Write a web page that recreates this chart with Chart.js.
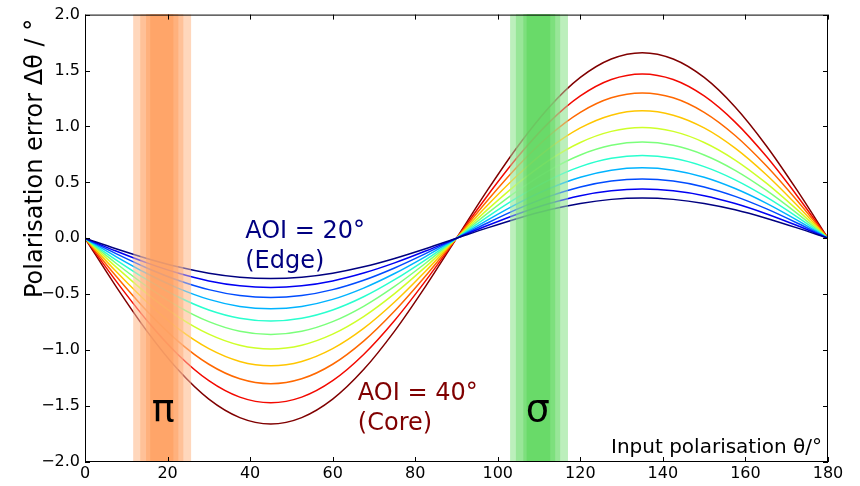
<!DOCTYPE html>
<html>
<head>
<meta charset="utf-8">
<script src="https://cdn.jsdelivr.net/npm/chart.js@4/dist/chart.umd.min.js"></script>
<style>
html,body{margin:0;padding:0;background:#fff;}
canvas{display:block;}
</style>
</head>
<body>
<canvas id="c" width="860" height="486"></canvas>
<script>
// ---- data ----
const thetaDeg = [0, 7.5, 15, 22.5, 30, 37.5, 45, 52.5, 60, 67.5, 75, 82.5, 90,
                  97.5, 105, 112.5, 120, 127.5, 135, 142.5, 150, 157.5, 165, 172.5, 180];
const aoi20 = [0, -0.093, -0.18, -0.255, -0.312, -0.348, -0.36, -0.348, -0.312, -0.255, -0.18, -0.093, 0,
               0.093, 0.18, 0.255, 0.312, 0.348, 0.36, 0.348, 0.312, 0.255, 0.18, 0.093, 0];
const aoi22 = [0, -0.114, -0.22, -0.311, -0.381, -0.425, -0.44, -0.425, -0.381, -0.311, -0.22, -0.114, 0,
               0.114, 0.22, 0.311, 0.381, 0.425, 0.44, 0.425, 0.381, 0.311, 0.22, 0.114, 0];
const aoi24 = [0, -0.137, -0.265, -0.375, -0.459, -0.512, -0.53, -0.512, -0.459, -0.375, -0.265, -0.137, 0,
               0.137, 0.265, 0.375, 0.459, 0.512, 0.53, 0.512, 0.459, 0.375, 0.265, 0.137, 0];
const aoi26 = [0, -0.163, -0.315, -0.445, -0.546, -0.609, -0.63, -0.609, -0.546, -0.445, -0.315, -0.163, 0,
               0.163, 0.315, 0.445, 0.546, 0.609, 0.63, 0.609, 0.546, 0.445, 0.315, 0.163, 0];
const aoi28 = [0, -0.192, -0.37, -0.523, -0.641, -0.715, -0.74, -0.715, -0.641, -0.523, -0.37, -0.192, 0,
               0.192, 0.37, 0.523, 0.641, 0.715, 0.74, 0.715, 0.641, 0.523, 0.37, 0.192, 0];
const aoi30 = [0, -0.223, -0.43, -0.608, -0.745, -0.831, -0.86, -0.831, -0.745, -0.608, -0.43, -0.223, 0,
               0.223, 0.43, 0.608, 0.745, 0.831, 0.86, 0.831, 0.745, 0.608, 0.43, 0.223, 0];
const aoi32 = [0, -0.256, -0.495, -0.70, -0.857, -0.956, -0.99, -0.956, -0.857, -0.70, -0.495, -0.256, 0,
               0.256, 0.495, 0.70, 0.857, 0.956, 0.99, 0.956, 0.857, 0.70, 0.495, 0.256, 0];
const aoi34 = [0, -0.295, -0.57, -0.806, -0.987, -1.101, -1.14, -1.101, -0.987, -0.806, -0.57, -0.295, 0,
               0.295, 0.57, 0.806, 0.987, 1.101, 1.14, 1.101, 0.987, 0.806, 0.57, 0.295, 0];
const aoi36 = [0, -0.337, -0.65, -0.919, -1.126, -1.256, -1.30, -1.256, -1.126, -0.919, -0.65, -0.337, 0,
               0.337, 0.65, 0.919, 1.126, 1.256, 1.30, 1.256, 1.126, 0.919, 0.65, 0.337, 0];
const aoi38 = [0, -0.381, -0.735, -1.039, -1.273, -1.42, -1.47, -1.42, -1.273, -1.039, -0.735, -0.381, 0,
               0.381, 0.735, 1.039, 1.273, 1.42, 1.47, 1.42, 1.273, 1.039, 0.735, 0.381, 0];
const aoi40 = [0, -0.43, -0.83, -1.174, -1.438, -1.603, -1.66, -1.603, -1.438, -1.174, -0.83, -0.43, 0,
               0.43, 0.83, 1.174, 1.438, 1.603, 1.66, 1.603, 1.438, 1.174, 0.83, 0.43, 0];
const seriesList = [aoi20, aoi22, aoi24, aoi26, aoi28, aoi30, aoi32, aoi34, aoi36, aoi38, aoi40];

const xTickValues = [0, 20, 40, 60, 80, 100, 120, 140, 160, 180];
const yTickValues = [-2.0, -1.5, -1.0, -0.5, 0.0, 0.5, 1.0, 1.5, 2.0];

// wavelength bands (theta ranges, outer to inner)
const piBand = [[11.7, 25.7], [13.4, 23.8], [14.8, 22.6], [15.8, 21.4]];
const sigmaBand = [[103.0, 117.0], [104.4, 115.1], [106.2, 113.9], [107.0, 112.7]];

// ---- styles ----
const lineColors = ['#000080', '#0000f3', '#004cff', '#00b3ff', '#29ffce', '#7bff7b',
                    '#ceff29', '#ffc600', '#ff6800', '#f30900', '#800000'];
const FONT = '"DejaVu Sans", sans-serif';

function layerColors(base, a, n) {
  const out = [];
  for (let k = 1; k <= n; k++) {
    const al = 1 - Math.pow(1 - a, k);
    out.push('rgb(' + base.map(c => Math.round(255 - al * (255 - c))).join(',') + ')');
  }
  return out;
}
const piColors = layerColors([255, 120, 30], 0.3, 4);
const sigmaColors = layerColors([30, 200, 30], 0.3, 4);

function drawBands(chart, alpha) {
  const {ctx, chartArea: ca, scales: {x}} = chart;
  ctx.save();
  ctx.globalAlpha = alpha;
  [[piBand, piColors], [sigmaBand, sigmaColors]].forEach(([band, cols]) => {
    band.forEach((r, i) => {
      const x0 = x.getPixelForValue(r[0]);
      const x1 = x.getPixelForValue(r[1]);
      ctx.fillStyle = cols[i];
      ctx.fillRect(x0, ca.top, x1 - x0, ca.bottom - ca.top);
    });
  });
  ctx.restore();
}

const decor = {
  id: 'decor',
  beforeDatasetsDraw(chart) { drawBands(chart, 1); },
  afterDatasetsDraw(chart) {
    drawBands(chart, 0.45);
    const {ctx, chartArea: ca, scales: {x, y}} = chart;
    ctx.save();
    // frame
    ctx.strokeStyle = '#000';
    ctx.lineWidth = 1;
    ctx.strokeRect(ca.left + 0.5, ca.top + 0.5, ca.right - ca.left - 1, ca.bottom - ca.top - 1);
    // inward ticks
    ctx.beginPath();
    const tl = 5;
    xTickValues.forEach(v => {
      const px = Math.round(x.getPixelForValue(v)) + 0.5;
      ctx.moveTo(px, ca.bottom); ctx.lineTo(px, ca.bottom - tl);
      ctx.moveTo(px, ca.top); ctx.lineTo(px, ca.top + tl);
    });
    yTickValues.forEach(v => {
      const py = Math.round(y.getPixelForValue(v)) + 0.5;
      ctx.moveTo(ca.left, py); ctx.lineTo(ca.left + tl, py);
      ctx.moveTo(ca.right, py); ctx.lineTo(ca.right - tl, py);
    });
    ctx.stroke();

    // annotations
    ctx.textBaseline = 'alphabetic';
    ctx.textAlign = 'left';
    ctx.font = '24px ' + FONT;
    ctx.fillStyle = '#000080';
    let ax = x.getPixelForValue(38.8), ay = y.getPixelForValue(0.0);
    ctx.fillText('AOI = 20°', ax, ay);
    ctx.fillText('(Edge)', ax, ay + 29.5);
    ctx.fillStyle = '#800000';
    ax = x.getPixelForValue(66.1); ay = y.getPixelForValue(-1.449);
    ctx.fillText('AOI = 40°', ax, ay);
    ctx.fillText('(Core)', ax, ay + 29.5);

    ctx.fillStyle = '#000';
    ctx.textAlign = 'center';
    ctx.font = '38px ' + FONT;
    ctx.fillText('π', x.getPixelForValue(18.97), y.getPixelForValue(-1.633));
    ctx.fillText('σ', x.getPixelForValue(109.7), y.getPixelForValue(-1.636));

    ctx.textAlign = 'right';
    ctx.font = '20px ' + FONT;
    ctx.fillText('Input polarisation θ/°', ca.right - 6, ca.bottom - 9.5);

    // y axis title
    ctx.save();
    ctx.translate(42, 298);
    ctx.rotate(-Math.PI / 2);
    ctx.textAlign = 'left';
    ctx.font = '24px ' + FONT;
    ctx.fillText('Polarisation error Δθ / °', 0, 0);
    ctx.restore();
    ctx.restore();
  }
};

const datasets = seriesList.map((arr, i) => ({
  data: thetaDeg.map((t, k) => ({x: t, y: arr[k]})),
  borderColor: lineColors[i],
  borderWidth: 1.5,
  pointRadius: 0,
  fill: false,
  cubicInterpolationMode: 'monotone'
}));

Chart.defaults.font.family = FONT;
new Chart(document.getElementById('c'), {
  type: 'line',
  data: {datasets},
  options: {
    responsive: false,
    animation: false,
    devicePixelRatio: 1,
    layout: {padding: {left: 0, right: 32, top: 12, bottom: 0}},
    plugins: {legend: {display: false}, tooltip: {enabled: false}},
    scales: {
      x: {
        type: 'linear', min: 0, max: 180,
        grid: {display: false, drawTicks: false},
        border: {display: false},
        afterBuildTicks: s => { s.ticks = xTickValues.map(v => ({value: v})); },
        afterFit: s => { s.height = 24; },
        ticks: {color: '#000', font: {size: 16}, padding: 2, autoSkip: false, maxRotation: 0,
                callback: v => String(v)}
      },
      y: {
        type: 'linear', min: -2, max: 2,
        grid: {display: false, drawTicks: false},
        border: {display: false},
        afterBuildTicks: s => { s.ticks = yTickValues.map(v => ({value: v})); },
        afterFit: s => { s.width = 85; },
        ticks: {color: '#000', font: {size: 16}, padding: 5, autoSkip: false,
                callback: v => Number(v).toFixed(1).replace('-', '\u2212')}
      }
    }
  },
  plugins: [decor]
});
</script>
</body>
</html>
